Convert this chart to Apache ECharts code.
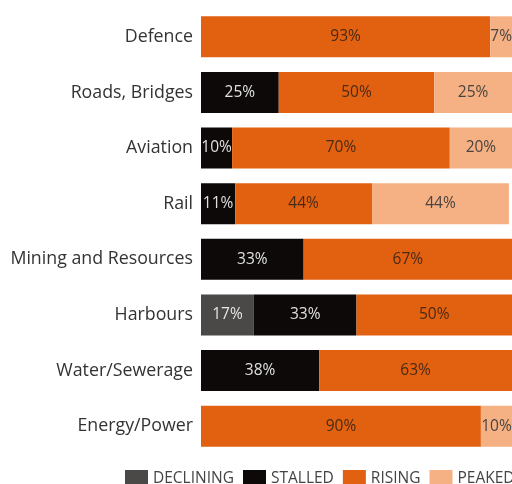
<!DOCTYPE html>
<html>
<head>
<meta charset="utf-8">
<style>
  html, body { margin: 0; padding: 0; background: #fff; }
  #chart { width: 512px; height: 484px; }
</style>
<script src="https://cdn.jsdelivr.net/npm/echarts@6/dist/echarts.min.js"></script>
</head>
<body>
<div id="chart"></div>
<script>
// Sectors, listed top to bottom
const categories = ['Defence', 'Roads, Bridges', 'Aviation', 'Rail',
  'Mining and Resources', 'Harbours', 'Water/Sewerage', 'Energy/Power'];

// Share of responses per sector (%), null where a status has no share
const declining = [null, null, null, null, null, 17, null, null];
const stalled   = [null, 25, 10, 11, 33, 33, 38, null];
const rising    = [93, 50, 70, 44, 67, 50, 63, 90];
const peaked    = [7, 25, 20, 44, null, null, null, 10];

const FONT = '"Open Sans", "Noto Sans", sans-serif';

function seg(name, data, color, labelColor) {
  return {
    name: name,
    type: 'bar',
    stack: 'total',
    data: data,
    barWidth: 41,
    itemStyle: { color: color },
    label: {
      show: true,
      position: 'inside',
      formatter: p => (p.value == null ? '' : p.value + '%'),
      color: labelColor,
      fontFamily: FONT,
      fontSize: 15.5
    },
    emphasis: { disabled: true }
  };
}

const chart = echarts.init(document.getElementById('chart'), null, { renderer: 'canvas' });
chart.setOption({
  animation: false,
  backgroundColor: '#ffffff',
  grid: { left: 201, right: 0, top: 9, bottom: 30, containLabel: false },
  xAxis: {
    type: 'value',
    min: 0,
    max: 100,
    show: false
  },
  yAxis: {
    type: 'category',
    data: categories,
    inverse: true,
    axisLine: { show: false },
    axisTick: { show: false },
    axisLabel: {
      margin: 8,
      color: '#333333',
      fontFamily: FONT,
      fontSize: 17.8
    }
  },
  legend: {
    left: 125,
    top: 470,
    padding: 0,
    width: 420,
    itemWidth: 23,
    itemHeight: 18,
    itemGap: 9,
    icon: 'rect',
    textStyle: { color: '#444444', fontFamily: FONT, fontSize: 15.5 },
    data: ['DECLINING', 'STALLED', 'RISING', 'PEAKED']
  },
  series: [
    seg('DECLINING', declining, '#4a4948', '#e6e6e6'),
    seg('STALLED', stalled, '#0c0908', '#e0e0e0'),
    seg('RISING', rising, '#e26111', '#4a2a14'),
    seg('PEAKED', peaked, '#f5b083', '#4a4440')
  ]
});
</script>
</body>
</html>
